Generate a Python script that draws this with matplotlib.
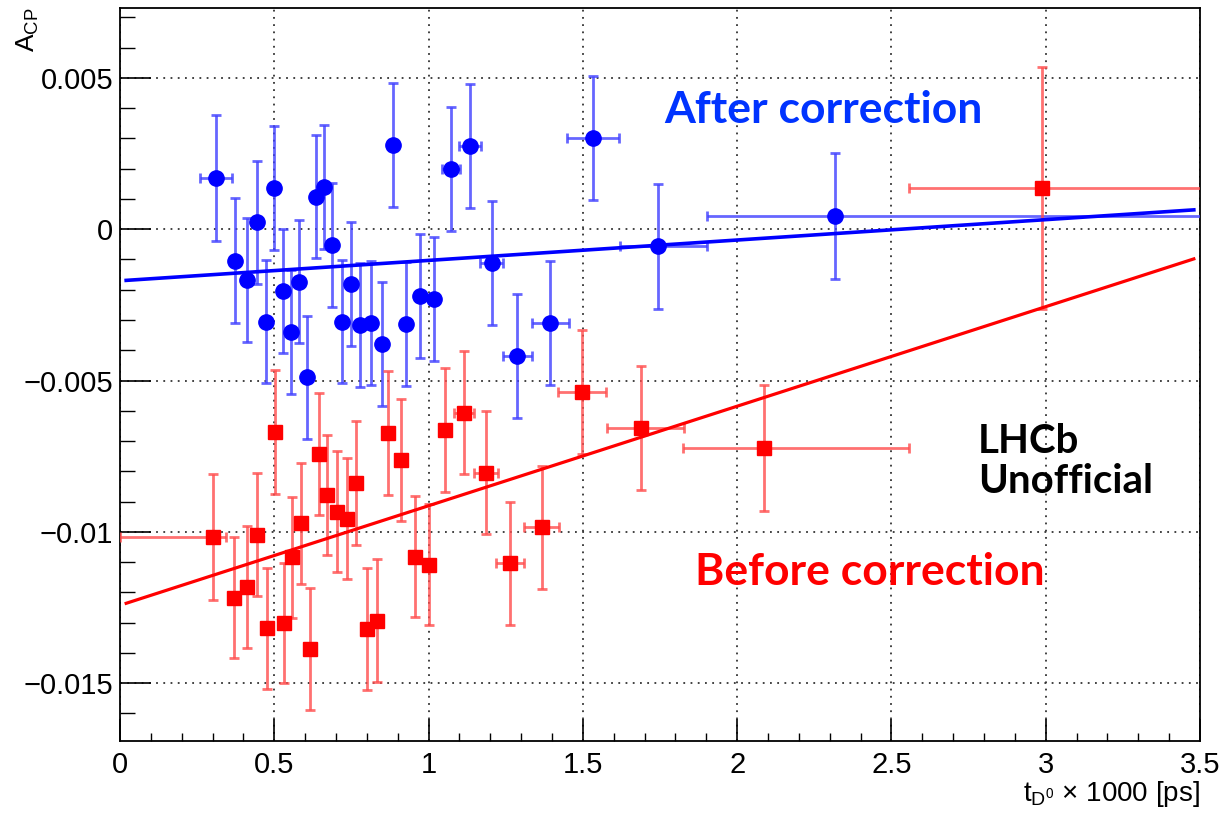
import numpy as np
import matplotlib
matplotlib.use("Agg")
import matplotlib.pyplot as plt
from matplotlib.ticker import MultipleLocator

plt.rcParams['font.family'] = ['Liberation Sans', 'DejaVu Sans']
plt.rcParams['mathtext.fontset'] = 'custom'
plt.rcParams['mathtext.rm'] = 'Liberation Sans'
plt.rcParams['mathtext.it'] = 'Liberation Sans'

# A_CP after correction (blue circles)
after_t = [0.310, 0.372, 0.410, 0.443, 0.472, 0.500, 0.528, 0.554, 0.580, 0.607,
           0.634, 0.661, 0.688, 0.718, 0.748, 0.778, 0.815, 0.850, 0.886, 0.926,
           0.971, 1.018, 1.072, 1.134, 1.204, 1.288, 1.394, 1.532, 1.745, 2.318]
after_acp = [0.00169, -0.00104, -0.00168, 0.00023, -0.00305, 0.00137, -0.00204, -0.00340, -0.00173, -0.00489,
             0.00108, 0.00141, -0.00052, -0.00305, -0.00181, -0.00316, -0.00311, -0.00380, 0.00279, -0.00314,
             -0.00220, -0.00231, 0.00198, 0.00275, -0.00112, -0.00419, -0.00311, 0.00301, -0.00057, 0.00044]
after_err = [0.00208, 0.00206, 0.00204, 0.00204, 0.00202, 0.00204, 0.00205, 0.00204, 0.00204, 0.00203,
             0.00204, 0.00205, 0.00204, 0.00204, 0.00204, 0.00205, 0.00205, 0.00205, 0.00205, 0.00205,
             0.00205, 0.00205, 0.00205, 0.00205, 0.00205, 0.00205, 0.00205, 0.00205, 0.00205, 0.00208]
after_tlo = [0.052, 0.01, 0.01, 0.01, 0.01, 0.01, 0.01, 0.01, 0.01, 0.01,
             0.01, 0.01, 0.01, 0.01, 0.01, 0.01, 0.01, 0.01, 0.01, 0.01,
             0.01, 0.01, 0.03, 0.035, 0.038, 0.047, 0.060, 0.085, 0.125, 0.415]
after_thi = [0.052, 0.01, 0.01, 0.01, 0.01, 0.01, 0.01, 0.01, 0.01, 0.01,
             0.01, 0.01, 0.01, 0.01, 0.01, 0.01, 0.01, 0.01, 0.01, 0.01,
             0.01, 0.01, 0.03, 0.035, 0.038, 0.047, 0.060, 0.085, 0.157, 1.300]

# A_CP before correction (red squares)
before_t = [0.300, 0.370, 0.410, 0.443, 0.475, 0.502, 0.532, 0.559, 0.588, 0.616,
            0.645, 0.672, 0.702, 0.735, 0.766, 0.800, 0.832, 0.870, 0.910, 0.955,
            1.002, 1.053, 1.115, 1.185, 1.264, 1.366, 1.498, 1.688, 2.088, 2.987]
before_acp = [-0.01016, -0.01217, -0.01181, -0.01010, -0.01319, -0.00671, -0.01302, -0.01084, -0.00972, -0.01388,
              -0.00743, -0.00878, -0.00933, -0.00957, -0.00840, -0.01322, -0.01293, -0.00674, -0.00762, -0.01082,
              -0.01109, -0.00663, -0.00606, -0.00804, -0.01104, -0.00985, -0.00537, -0.00656, -0.00722, 0.00135]
before_err = [0.00208, 0.00200, 0.00202, 0.00203, 0.00200, 0.00205, 0.00198, 0.00199, 0.00199, 0.00201,
              0.00202, 0.00197, 0.00200, 0.00200, 0.00205, 0.00201, 0.00203, 0.00204, 0.00202, 0.00200,
              0.00200, 0.00204, 0.00203, 0.00202, 0.00203, 0.00203, 0.00205, 0.00205, 0.00208, 0.00400]
before_tlo = [0.300, 0.01, 0.01, 0.01, 0.01, 0.01, 0.01, 0.01, 0.01, 0.01,
              0.01, 0.01, 0.01, 0.01, 0.01, 0.01, 0.01, 0.01, 0.01, 0.01,
              0.01, 0.01, 0.032, 0.039, 0.045, 0.056, 0.078, 0.110, 0.262, 0.429]
before_thi = [0.045, 0.01, 0.01, 0.01, 0.01, 0.01, 0.01, 0.01, 0.01, 0.01,
              0.01, 0.01, 0.01, 0.01, 0.01, 0.01, 0.01, 0.01, 0.01, 0.01,
              0.01, 0.01, 0.032, 0.039, 0.045, 0.056, 0.078, 0.140, 0.470, 1.000]

# straight-line fits (end points)
fit_t = [0.02, 3.48]
after_fit = [-0.00169, 0.00064]
before_fit = [-0.01236, -0.00098]

x_ticks = [0, 0.5, 1, 1.5, 2, 2.5, 3, 3.5]
x_tick_labels = ['0', '0.5', '1', '1.5', '2', '2.5', '3', '3.5']
y_ticks = [0.005, 0, -0.005, -0.01, -0.015]
y_tick_labels = ['0.005', '0', '\u22120.005', '\u22120.01', '\u22120.015']

fig = plt.figure(figsize=(12.19, 8.15), dpi=100)
ax = fig.add_axes([120 / 1219, 1 - 741 / 815, 1080 / 1219, 733 / 815])

ax.set_xlim(0, 3.5)
ax.set_ylim(-0.01691, 0.00731)

blue = (0.0, 0.0, 1.0)
red = (1.0, 0.0, 0.0)

ax.errorbar(after_t, after_acp, yerr=after_err, xerr=[after_tlo, after_thi],
            fmt='none', ecolor=(0.25, 0.25, 1.0, 0.8), elinewidth=2.0,
            capsize=3.5, capthick=2.0, zorder=3)
ax.plot(after_t, after_acp, 'o', color=blue, ms=11, zorder=4)

ax.errorbar(before_t, before_acp, yerr=before_err, xerr=[before_tlo, before_thi],
            fmt='none', ecolor=(1.0, 0.3, 0.3, 0.8), elinewidth=2.0,
            capsize=3.5, capthick=2.0, zorder=3)
ax.plot(before_t, before_acp, 's', color=red, ms=10.5, zorder=4)

ax.plot(fit_t, after_fit, '-', color=blue, lw=2.6, zorder=5)
ax.plot(fit_t, before_fit, '-', color=red, lw=2.3, zorder=5)

# ROOT-like axes
ax.set_xticks(x_ticks)
ax.set_xticklabels(x_tick_labels)
ax.set_yticks(y_ticks)
ax.set_yticklabels(y_tick_labels)
ax.xaxis.set_minor_locator(MultipleLocator(0.1))
ax.yaxis.set_minor_locator(MultipleLocator(0.001))
ax.tick_params(axis='x', which='major', direction='in', length=16, width=1.2,
               labelsize=21, pad=7, top=False)
ax.tick_params(axis='x', which='minor', direction='in', length=6, width=1.0, top=False)
ax.tick_params(axis='y', which='major', direction='in', length=22, width=1.2,
               labelsize=21, pad=5, right=False)
ax.tick_params(axis='y', which='minor', direction='in', length=11, width=1.0, right=False)
for sp in ax.spines.values():
    sp.set_linewidth(1.3)

ax.grid(True, which='major', linestyle=(0, (1, 3)), color='#333333', lw=1.3, zorder=1)

ax.set_xlabel(r'$\mathregular{t_{D^0}}$ $\times$ 1000 [ps]', fontsize=20, loc='right', labelpad=0)
ax.text(-0.085, 1.0, r'A$_{\mathregular{CP}}$', transform=ax.transAxes, rotation=90,
        fontsize=19, ha='center', va='top')

note_font = ['Lato', 'Open Sans', 'DejaVu Sans']
ax.text(2.28, 0.00393, 'After correction', color=(0.0, 0.2, 1.0), fontsize=32,
        fontweight='bold', family=note_font, ha='center', va='center')
ax.text(2.43, -0.01131, 'Before correction', color=red, fontsize=32,
        fontweight='bold', family=note_font, ha='center', va='center')
ax.text(2.78, -0.00766, 'LHCb\nUnofficial', color='black', fontsize=29,
        fontweight='bold', family=note_font, ha='left', va='center',
        linespacing=1.1)

fig.savefig('out.png', dpi=100)
